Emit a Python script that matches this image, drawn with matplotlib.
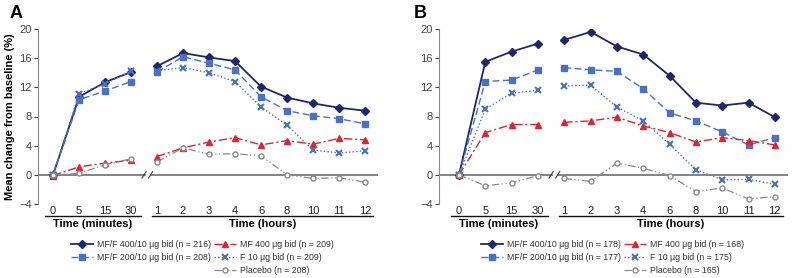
import numpy as np
import matplotlib
matplotlib.use('Agg')
import matplotlib.pyplot as plt
from matplotlib.legend import Legend

plt.rcParams['font.family'] = ['Liberation Sans', 'DejaVu Sans']

# ---- data ----
min_labels = ['0', '5', '15', '30']
hr_labels = ['1', '2', '3', '4', '6', '8', '10', '11', '12']

# panel A
a_mff400 = [0, 10.7, 12.7, 14.1, 14.9, 16.7, 16.1, 15.6, 12.1, 10.6, 9.8, 9.2, 8.8]
a_mff200 = [0, 10.3, 11.5, 12.8, 14.1, 16.2, 15.3, 14.4, 10.7, 8.8, 8.1, 7.7, 7.0]
a_mf400 = [-0.1, 1.1, 1.6, 2.0, 2.5, 3.7, 4.5, 5.1, 4.1, 4.7, 4.2, 5.0, 4.8]
a_f10 = [0, 11.1, 12.5, 14.2, 14.3, 14.7, 14.0, 12.8, 9.3, 6.8, 3.4, 3.0, 3.3]
a_pbo = [0, 0.2, 1.4, 2.2, 1.8, 3.7, 2.8, 2.9, 2.6, 0.0, -0.5, -0.4, -1.0]
a_n = [216, 208, 209, 209, 208]

# panel B
b_mff400 = [0, 15.5, 16.9, 18.0, 18.5, 19.6, 17.6, 16.5, 13.6, 9.9, 9.5, 9.9, 7.9]
b_mff200 = [0, 12.8, 13.0, 14.4, 14.7, 14.4, 14.2, 11.8, 8.5, 7.4, 5.9, 4.1, 5.1]
b_mf400 = [0, 5.8, 6.9, 6.9, 7.2, 7.4, 7.9, 6.7, 5.8, 4.5, 5.1, 4.7, 4.1]
b_f10 = [0, 9.0, 11.2, 11.6, 12.2, 12.3, 9.3, 7.4, 4.2, 0.7, -0.7, -0.6, -1.3]
b_pbo = [0, -1.5, -1.1, -0.1, -0.5, -0.9, 1.6, 0.9, -0.1, -2.3, -1.8, -3.3, -3.0]
b_n = [178, 177, 168, 175, 165]

names = ['MF/F 400/10 \u03bcg bid', 'MF/F 200/10 \u03bcg bid', 'MF 400 \u03bcg bid',
         'F 10 \u03bcg bid', 'Placebo']

styles = [
    dict(color='#1f2670', ls='-', lw=1.3, marker='D', ms=4.3, mfc='#1f2670', mec='#1f2670'),
    dict(color='#4a72c0', ls=(0, (5, 2.5)), lw=1.0, marker='s', ms=4.3, mfc='#4a72c0', mec='#4a72c0'),
    dict(color='#e3232b', ls=(0, (6, 2, 1.5, 2)), lw=1.0, marker='^', ms=4.8, mfc='#e3232b', mec='#e3232b'),
    dict(color='#4a72c0', ls=(0, (1, 1.6)), lw=1.0, marker='x', ms=4.3, mew=1.5),
    dict(color='#8a8a8a', ls=(0, (6, 2, 1, 2, 1, 2)), lw=0.9, marker='o', ms=3.6, mfc='white', mec='#8a8a8a'),
]

fig = plt.figure(figsize=(7.94, 2.78), dpi=100)
axA = fig.add_axes([38 / 794, 74 / 278, 340 / 794, 175 / 278])
axB = fig.add_axes([439 / 794, 74 / 278, 349 / 794, 175 / 278])

x = np.arange(len(min_labels) + len(hr_labels))
nmin = len(min_labels)


def draw(ax, data, ns, xleft, leg_x):
    handles = []
    for vals, st, nm, n in zip(data, styles, names, ns):
        vals = np.asarray(vals, float)
        h, = ax.plot(x[:nmin], vals[:nmin], **st, label=f'{nm} (n = {n})')
        ax.plot(x[nmin:], vals[nmin:], **st)
        handles.append(h)
    ax.set_xlim(xleft, 12.5)
    ax.set_ylim(-4, 20)
    ax.set_yticks([-4, 0, 4, 8, 12, 16, 20])
    ax.set_yticklabels(['\u22124', '0', '4', '8', '12', '16', '20'])
    ax.tick_params(axis='y', labelsize=8, colors='#444444', length=3, width=0.8, pad=1.5)
    ax.set_xticks(x)
    ax.set_xticklabels(min_labels + hr_labels)
    ax.tick_params(axis='x', labelsize=8, length=0, pad=1.5, colors='#222222')
    for s in ['top', 'right', 'bottom']:
        ax.spines[s].set_visible(False)
    ax.spines['left'].set_color('#888888')
    ax.spines['left'].set_linewidth(0.8)
    # zero line with break
    ax.plot([xleft, 3.55], [0, 0], color='#7a7a7a', lw=1.3, zorder=1)
    ax.plot([3.75, 12.5], [0, 0], color='#7a7a7a', lw=1.3, zorder=1)
    for dx in (3.5, 3.75):
        ax.plot([dx - 0.08, dx + 0.08], [-0.45, 0.45], color='#444444', lw=0.8, zorder=1)
    # underlines and axis titles
    tr = ax.get_xaxis_transform()
    ax.plot([-0.3, 3.4], [-0.07, -0.07], transform=tr, color='#111111', lw=1.0, clip_on=False)
    ax.plot([3.8, 12.3], [-0.07, -0.07], transform=tr, color='#111111', lw=1.0, clip_on=False)
    ax.text(1.5, -0.115, 'Time (minutes)', transform=tr, ha='center', va='center',
            fontsize=8, fontweight='bold')
    ax.text(8.05, -0.115, 'Time (hours)', transform=tr, ha='center', va='center',
            fontsize=8, fontweight='bold')
    kw = dict(frameon=False, fontsize=6.3, handlelength=2.5, handletextpad=0.5,
              labelspacing=0.45, borderpad=0, borderaxespad=0, loc='upper left',
              bbox_transform=fig.transFigure)
    l1 = Legend(ax, handles[:2], [h.get_label() for h in handles[:2]],
                bbox_to_anchor=(leg_x[0], 0.136), **kw)
    l2 = Legend(ax, handles[2:], [h.get_label() for h in handles[2:]],
                bbox_to_anchor=(leg_x[1], 0.136), **kw)
    for l in (l1, l2):
        for t in l.get_texts():
            t.set_color('#333333')
        ax.add_artist(l)


draw(axA, [a_mff400, a_mff200, a_mf400, a_f10, a_pbo], a_n, -0.58, (71 / 794, 214 / 794))
draw(axB, [b_mff400, b_mff200, b_mf400, b_f10, b_pbo], b_n, -0.76, (481 / 794, 624 / 794))

axA.set_ylabel('Mean change from baseline (%)', fontsize=8, fontweight='bold', labelpad=3)
fig.text(10 / 794, 1 - 14 / 278, 'A', fontsize=13, fontweight='bold', va='center')
fig.text(414 / 794, 1 - 14 / 278, 'B', fontsize=13, fontweight='bold', va='center')

fig.savefig('out.png', dpi=100)
